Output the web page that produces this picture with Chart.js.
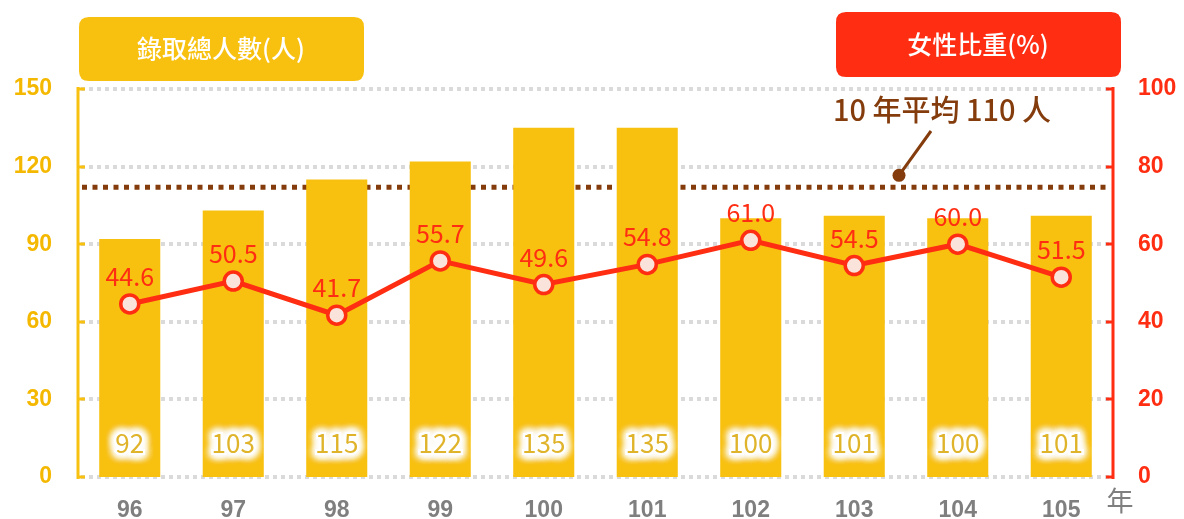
<!DOCTYPE html>
<html><head><meta charset="utf-8">
<script src="https://cdn.jsdelivr.net/npm/chart.js@4.4.0/dist/chart.umd.min.js"></script>
<style>html,body{margin:0;padding:0;background:#fff;}#wrap{width:1184px;height:519px;position:relative;}</style>
</head><body><div id="wrap"><canvas id="c" width="1184" height="519"></canvas></div>
<script>
const years = ['96','97','98','99','100','101','102','103','104','105'];
const admitted = [92,103,115,122,135,135,100,101,100,101];
const femaleRatio = [44.6,50.5,41.7,55.7,49.6,54.8,61.0,54.5,60.0,51.5];
const averageLine = 112;
const leftTicks = [0,30,60,90,120,150];
const rightTicks = [0,20,40,60,80,100];
const legendLeft = '錄取總人數(人)';
const legendRight = '女性比重(%)';
const avgText = '10 年平均 110 人';
const yearUnit = '年';

const YELLOW = '#f8c110', RED = '#ff2d12', BROWN = '#843c0c', GRAY = '#7f7f7f';
const FONT = '"Noto Sans CJK TC","Noto Sans","Liberation Sans",sans-serif';
const ARIAL = '"Liberation Sans","Noto Sans",sans-serif';

function rr(ctx,x,y,w,h,r){ctx.beginPath();ctx.moveTo(x+r,y);ctx.lineTo(x+w-r,y);ctx.quadraticCurveTo(x+w,y,x+w,y+r);ctx.lineTo(x+w,y+h-r);ctx.quadraticCurveTo(x+w,y+h,x+w-r,y+h);ctx.lineTo(x+r,y+h);ctx.quadraticCurveTo(x,y+h,x,y+h-r);ctx.lineTo(x,y+r);ctx.quadraticCurveTo(x,y,x+r,y);ctx.closePath();}

const decor = {
  id:'decor',
  beforeDatasetsDraw(chart){
    const ctx=chart.ctx, ca=chart.chartArea, yL=chart.scales.yL, yR=chart.scales.yR;
    ctx.save();
    // grid lines dotted
    ctx.strokeStyle='#dadada'; ctx.lineWidth=4; ctx.setLineDash([4,4]);
    leftTicks.forEach(v=>{const y=Math.round(yL.getPixelForValue(v));ctx.beginPath();ctx.moveTo(ca.left+3,y);ctx.lineTo(ca.right-3,y);ctx.stroke();});
    ctx.setLineDash([]);
    // axis lines and inward ticks
    ctx.lineWidth=3;
    ctx.strokeStyle=YELLOW;
    ctx.beginPath();ctx.moveTo(ca.left,ca.top-2);ctx.lineTo(ca.left,ca.bottom+2);ctx.stroke();
    leftTicks.forEach(v=>{const y=Math.round(yL.getPixelForValue(v));ctx.beginPath();ctx.moveTo(ca.left,y);ctx.lineTo(ca.left+7,y);ctx.stroke();});
    ctx.strokeStyle=RED;
    ctx.beginPath();ctx.moveTo(ca.right,ca.top-2);ctx.lineTo(ca.right,ca.bottom+2);ctx.stroke();
    rightTicks.forEach(v=>{const y=Math.round(yR.getPixelForValue(v));ctx.beginPath();ctx.moveTo(ca.right,y);ctx.lineTo(ca.right-7,y);ctx.stroke();});
    // average line
    const y=yL.getPixelForValue(averageLine);
    ctx.strokeStyle=BROWN; ctx.lineWidth=5; ctx.setLineDash([5,5.5]);
    ctx.beginPath(); ctx.moveTo(ca.left+4,y); ctx.lineTo(ca.right-4,y); ctx.stroke();
    ctx.restore();
  },
  afterDatasetsDraw(chart){
    const ctx=chart.ctx, ca=chart.chartArea, yL=chart.scales.yL;
    ctx.save();
    // bar value labels with glow
    const bm=chart.getDatasetMeta(0);
    ctx.font='26px '+FONT; ctx.textAlign='center'; ctx.textBaseline='middle';
    bm.data.forEach((b,i)=>{
      const ty=yL.getPixelForValue(0)-34;
      ctx.save();
      ctx.shadowColor='rgba(255,255,255,1)'; ctx.shadowBlur=10;
      ctx.fillStyle='#fff'; ctx.strokeStyle='#fff'; ctx.lineWidth=4;
      for(let k=0;k<5;k++){ ctx.strokeText(String(admitted[i]),b.x,ty); ctx.fillText(String(admitted[i]),b.x,ty);}
      ctx.restore();
      ctx.fillStyle='#e0b42a';
      ctx.fillText(String(admitted[i]),b.x,ty);
    });
    // line value labels
    const lm=chart.getDatasetMeta(1);
    ctx.fillStyle=RED; ctx.font='25px '+FONT; ctx.textBaseline='alphabetic';
    lm.data.forEach((p,i)=>{ ctx.fillText(femaleRatio[i].toFixed(1),p.x,p.y-18); });
    // legend boxes
    ctx.fillStyle=YELLOW; rr(ctx,79,17,285,64,10); ctx.fill();
    ctx.fillStyle=RED; rr(ctx,836,12,285,65,10); ctx.fill();
    ctx.fillStyle='#fff'; ctx.font='500 25px '+FONT; ctx.textBaseline='middle';
    ctx.fillText(legendLeft,221,48);
    ctx.fillText(legendRight,978,44);
    // annotation
    const ay=yL.getPixelForValue(averageLine);
    ctx.strokeStyle=BROWN; ctx.lineWidth=3;
    ctx.beginPath(); ctx.moveTo(931,131); ctx.lineTo(899,ay-12); ctx.stroke();
    ctx.fillStyle=BROWN; ctx.beginPath(); ctx.arc(899,ay-12,6.5,0,Math.PI*2); ctx.fill();
    ctx.font='500 29px '+FONT; ctx.textAlign='center';
    ctx.fillText(avgText,942,110);
    // year unit
    ctx.fillStyle=GRAY; ctx.font='27px '+FONT; ctx.textAlign='center';
    ctx.fillText(yearUnit,1120,501);
    ctx.restore();
  }
};

new Chart(document.getElementById('c'),{
  data:{labels:years,datasets:[
    {type:'bar',data:admitted,yAxisID:'yL',backgroundColor:YELLOW,categoryPercentage:0.59,barPercentage:1,order:2},
    {type:'line',data:femaleRatio,yAxisID:'yR',borderColor:RED,borderWidth:5,pointRadius:9,pointHoverRadius:9,
     pointBackgroundColor:'#f9e3da',pointBorderColor:RED,pointBorderWidth:3.5,order:1,tension:0}
  ]},
  options:{
    responsive:false,animation:false,
    layout:{padding:{top:89,left:0,right:0,bottom:0}},
    plugins:{legend:{display:false},tooltip:{enabled:false}},
    scales:{
      x:{grid:{display:false},border:{display:false},
         ticks:{color:GRAY,font:{family:ARIAL,size:23,weight:'bold'},padding:12},
         afterFit(s){s.height=42;}},
      yL:{position:'left',min:0,max:150,
         afterBuildTicks(s){s.ticks=leftTicks.map(v=>({value:v}));},
         grid:{display:false,drawTicks:false},
         border:{display:false},
         ticks:{color:'#f5b800',font:{family:ARIAL,size:23,weight:'bold'},padding:26},
         afterFit(s){s.width=78;}},
      yR:{position:'right',min:0,max:100,
         afterBuildTicks(s){s.ticks=rightTicks.map(v=>({value:v}));},
         grid:{display:false,drawTicks:false},
         border:{display:false},
         ticks:{color:RED,font:{family:ARIAL,size:23,weight:'bold'},padding:25},
         afterFit(s){s.width=71;}}
    }
  },
  plugins:[decor]
});
</script></body></html>
